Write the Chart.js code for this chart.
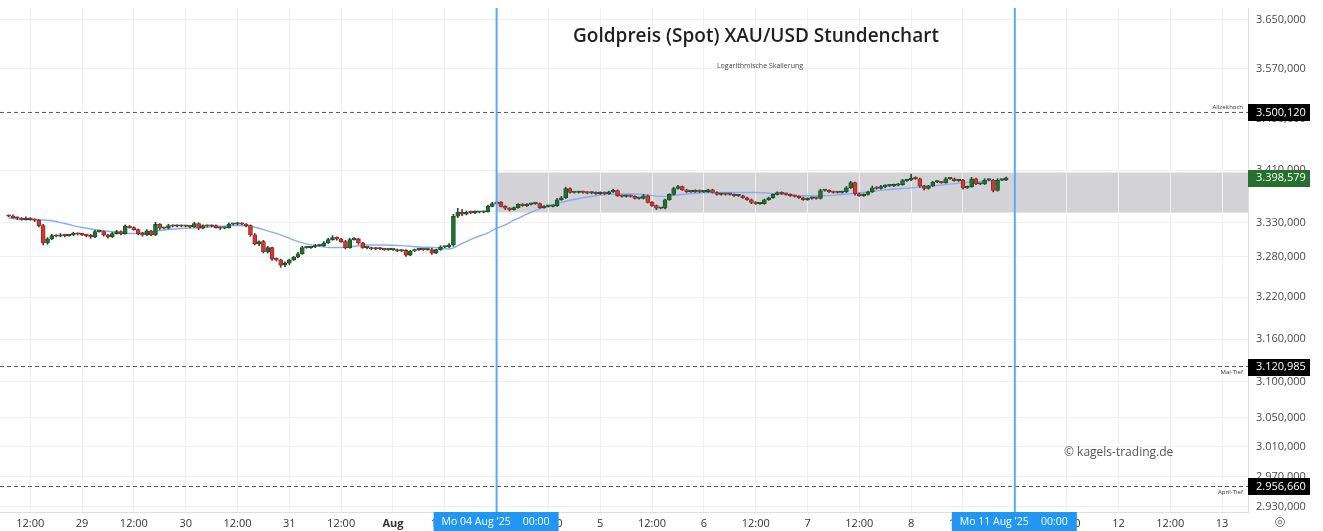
<!DOCTYPE html>
<html><head><meta charset="utf-8">
<script src="https://cdn.jsdelivr.net/npm/chart.js@4.4.1/dist/chart.umd.min.js"></script>
<style>html,body{margin:0;padding:0;background:#fff;overflow:hidden}#wrap{width:1323px;height:531px;position:relative}</style>
</head><body><div id="wrap"><canvas id="c" width="1323" height="531"></canvas></div>
<script>
// ---------- DATA ----------
const titleText = 'Goldpreis (Spot) XAU/USD Stundenchart';
const subtitleText = 'Logarithmische Skalierung';
const watermarkText = '\u00A9 kagels-trading.de';

// hourly candles, x = hour slot counted from Mon 28 Jul 00:00 (weekend removed)
const firstHour = 7;
const firstOpen = 3341;
const closes = [
  3340,3338,3337,3335,3337,3335,3334,3326,3300,3306,3311,3310,3312,3311,3312,3314,3313,
  3312,3311,3309,3317,3317,3312,3309,3314,3317,3314,3325,3323,3320,3314,3312,3318,3312,3328,3322,3322,3326,3325,3326,3325,
  3325,3324,3329,3322,3326,3325,3326,3323,3322,3323,3328,3328,3329,3328,3326,3312,3299,3302,3287,3293,3276,3275,3267,3270,
  3275,3279,3284,3293,3293,3294,3296,3296,3300,3305,3308,3306,3302,3293,3305,3306,3300,3293,3293,3291,3292,3291,3290,3290,
  3290,3288,3289,3282,3288,3290,3291,3290,3290,3285,3290,3294,3294,3297,3340,3346,3343,3346,3345,3346,3346,3347,3355,3359,
  3361,3355,3352,3350,3353,3358,3356,3358,3359,3359,3353,3355,3355,3356,3365,3368,3382,3376,3376,3377,3376,3375,3376,3374,
  3376,3374,3377,3379,3371,3370,3371,3370,3367,3367,3371,3361,3356,3352,3352,3365,3373,3382,3385,3380,3377,3377,3379,3377,
  3377,3380,3376,3373,3374,3373,3373,3371,3371,3368,3365,3361,3359,3359,3365,3368,3373,3376,3374,3373,3371,3370,3368,3365,
  3367,3368,3367,3379,3379,3377,3376,3376,3377,3383,3391,3374,3371,3373,3377,3383,3382,3385,3386,3386,3387,3388,3394,3395,
  3398,3397,3386,3382,3386,3392,3392,3391,3397,3397,3394,3395,3383,3385,3397,3389,3389,3395,3395,3379,3395,3395,3398.579
];
const upperWick = [
  1,2,1,1,2,1,1,1,2,2,2,1,2,1,1,2,1,
  1,1,2,2,1,1,1,2,2,1,2,1,1,1,2,2,1,3,1,1,2,1,1,1,
  1,1,2,1,1,1,1,1,1,1,2,1,2,1,1,1,2,1,2,2,1,2,1,2,
  1,1,2,2,1,1,2,1,2,2,3,1,1,2,2,2,1,1,1,1,1,1,1,1,
  1,1,1,1,1,1,1,1,1,2,1,2,1,2,3,6,4,2,2,2,1,1,2,2,
  2,1,1,1,1,1,1,1,1,1,1,1,1,1,2,2,2,1,1,1,1,1,1,1,
  1,1,1,2,1,1,1,1,1,1,2,1,1,1,1,1,1,2,2,1,1,1,1,1,
  1,1,1,1,1,1,1,1,1,1,1,1,1,1,1,1,1,1,1,1,1,1,1,1,
  1,1,1,2,1,1,1,1,1,2,2,1,1,1,1,3,2,2,2,1,2,2,2,1,
  6,2,1,1,1,1,2,1,2,1,1,1,1,1,2,1,1,2,1,1,2,1,1
];
const lowerWick = [
  1,1,2,1,1,1,2,2,3,2,1,1,1,2,1,1,1,
  1,2,2,1,1,2,2,1,1,2,1,1,1,2,2,1,1,1,2,1,1,1,1,1,
  1,1,1,2,1,1,1,1,2,1,1,1,1,1,2,2,2,3,2,2,2,2,3,2,
  2,1,1,1,1,1,1,1,1,1,1,2,1,2,1,1,2,1,2,1,1,1,1,1,
  1,1,1,2,1,1,1,1,1,2,1,1,1,1,2,2,2,1,1,1,1,1,1,1,
  1,1,2,2,1,1,1,1,1,1,1,1,1,1,1,1,1,1,1,1,1,1,1,1,
  1,1,1,1,1,1,1,1,1,1,1,1,1,2,1,1,1,1,1,1,1,1,1,1,
  1,1,1,1,1,1,1,1,1,1,1,2,1,1,1,1,1,1,1,1,1,1,1,1,
  1,1,1,1,1,1,1,1,1,1,1,2,1,1,1,1,1,1,2,1,1,1,1,1,
  1,1,2,2,1,1,1,1,1,1,1,1,2,1,1,1,1,1,1,2,1,1,1
];

// moving average
const maHours  = [7,12,16,20,24,28,32,36,40,44,48,52,56,60,63,66,70,74,78,82,86,90,94,98,102,106,109,112,115,118,120,122,124,126,128,130,132,135,140,143,148,154,158,163,170,180,185,190,195,200,205,210,216,224,230,238];
const maValues = [3337,3335,3334,3329,3323,3319,3316,3314,3317,3320,3322,3323,3325,3326,3325,3320,3312,3302,3296,3293,3294,3297,3297,3296,3294,3293,3291,3299,3308,3315,3322,3327,3334,3340,3346,3351,3355,3361,3368,3371,3374,3373,3370,3373,3376,3376,3374,3371,3371,3373,3376,3380,3383,3388,3392,3395];

// axis ticks
const yTicks = [2930,2970,3010,3050,3100,3160,3220,3280,3330,3410,3490,3570,3650];
const xTickHours  = [12,24,36,48,60,72,84,96,108,120,132,144,156,168,180,192,204,216,228,240,252,264,276,288];
const xTickLabels = ['12:00','29','12:00','30','12:00','31','12:00','Aug','12:00','4','12:00','5','12:00','6','12:00','7','12:00','8','12:00','11','12:00','12','12:00','13'];

// horizontal levels
const levelValues = [3500.120, 3120.985, 2956.660];
const levelNames  = ['Allzeithoch', 'Mai-Tief', 'April-Tief'];
const lastPrice = 3398.579;

// range box
const zoneStartHour = 120;
const zoneHigh = 3406.5;
const zoneLow = 3345.6;

// vertical markers
const markerHours  = [120, 240];
const markerLabels = [["Mo 04 Aug '25", '00:00'], ["Mo 11 Aug '25", '00:00']];

// ---------- CHART ----------
const X_MIN = 5, X_MAX = 294;
const Y_MIN = 2922.8, Y_MAX = 3669;
const FAM = "'Open Sans', 'DejaVu Sans', sans-serif";
const GREEN = '#21702f', RED = '#d5362f', WICK = '#3c3c3c';
const GREEN_B = '#174d21', RED_B = '#8e2420';

function fmt(v) {
  const s = Number(v).toFixed(3);
  const parts = s.split('.');
  return parts[0].replace(/\B(?=(\d{3})+(?!\d))/g, '.') + ',' + parts[1];
}

const candles = closes.map((c, i) => {
  const o = i === 0 ? firstOpen : closes[i - 1];
  return { h: firstHour + i, o: o, c: c,
    hi: Math.max(o, c) + upperWick[i], lo: Math.min(o, c) - lowerWick[i] };
});

const zonePlugin = {
  id: 'zone',
  beforeDraw(chart) {
    const { ctx, chartArea, scales } = chart;
    const x0 = scales.x.getPixelForValue(zoneStartHour);
    const y0 = scales.y.getPixelForValue(zoneHigh);
    const y1 = scales.y.getPixelForValue(zoneLow);
    ctx.save();
    ctx.fillStyle = '#d3d3d7';
    ctx.fillRect(x0, y0, chartArea.right - x0, y1 - y0);
    ctx.restore();
  }
};

const textPlugin = {
  id: 'texts',
  afterDraw(chart) {
    const { ctx, chartArea, scales } = chart;
    const ys = scales.y, xs = scales.x;
    ctx.save();
    // title
    ctx.fillStyle = '#1f1f24';
    ctx.textAlign = 'center';
    ctx.textBaseline = 'middle';
    ctx.font = '600 19px ' + FAM;
    ctx.fillText(titleText, 756, 37);
    ctx.font = '7px ' + FAM;
    ctx.fillStyle = '#444';
    ctx.fillText(subtitleText, 760, 66);
    // watermark
    ctx.font = '12px ' + FAM;
    ctx.fillStyle = '#555';
    ctx.textAlign = 'left';
    ctx.fillText(watermarkText, 1064, 453);

    // level names + value boxes
    levelValues.forEach((v, i) => {
      const y = ys.getPixelForValue(v);
      ctx.font = '6px ' + FAM;
      ctx.fillStyle = '#333';
      ctx.textAlign = 'right';
      ctx.fillText(levelNames[i], chartArea.right - 5, i === 0 ? y - 5 : y + 6);
      ctx.fillStyle = '#000';
      ctx.fillRect(chartArea.right, Math.round(y) - 8, 62, 17);
      ctx.fillStyle = '#fff';
      ctx.textAlign = 'left';
      ctx.font = '11px ' + FAM;
      ctx.fillText(fmt(v), chartArea.right + 8, y + 0.5);
    });
    const yl = ys.getPixelForValue(lastPrice);
    ctx.fillStyle = '#26702f';
    ctx.fillRect(chartArea.right, Math.round(yl) - 8, 62, 17);
    ctx.fillStyle = '#fff';
    ctx.font = '11px ' + FAM;
    ctx.textAlign = 'left';
    ctx.fillText(fmt(lastPrice), chartArea.right + 8, yl + 0.5);

    // marker boxes on time axis
    markerHours.forEach((h, i) => {
      const cx = xs.getPixelForValue(h);
      ctx.fillStyle = '#2196f3';
      ctx.fillRect(cx - 63, chartArea.bottom, 125, 19);
      ctx.fillStyle = '#fff';
      ctx.font = '10.5px ' + FAM;
      ctx.textAlign = 'left';
      ctx.fillText(markerLabels[i][0], cx - 55, chartArea.bottom + 10);
      ctx.textAlign = 'right';
      ctx.fillText(markerLabels[i][1], cx + 53, chartArea.bottom + 10);
    });

    // settings icon
    ctx.strokeStyle = '#777';
    ctx.lineWidth = 1;
    ctx.beginPath(); ctx.arc(1280, 522, 4.5, 0, Math.PI * 2); ctx.stroke();
    ctx.beginPath(); ctx.arc(1280, 522, 1.8, 0, Math.PI * 2); ctx.stroke();
    ctx.restore();
  }
};

const datasets = [];
markerHours.forEach(h => {
  datasets.push({ type: 'line', data: [{ x: h, y: Y_MIN }, { x: h, y: Y_MAX }],
    borderColor: '#5aaaf2', borderWidth: 2, pointRadius: 0, order: 0 });
});
datasets.push({ type: 'bar', data: candles.map(k => ({ x: k.h, y: [k.o, k.c] })),
  backgroundColor: candles.map(k => k.c >= k.o ? GREEN : RED),
  borderColor: candles.map(k => k.c >= k.o ? GREEN_B : RED_B),
  borderWidth: 0.8, borderSkipped: false,
  barThickness: 4, minBarLength: 1.5, grouped: false, order: 1 });
datasets.push({ type: 'bar', data: candles.map(k => ({ x: k.h, y: [k.lo, k.hi] })),
  backgroundColor: WICK, borderWidth: 0, barThickness: 1, grouped: false, order: 2 });
datasets.push({ type: 'line', data: maHours.map((h, i) => ({ x: h, y: maValues[i] })),
  borderColor: '#86aef5', borderWidth: 1.4, pointRadius: 0, cubicInterpolationMode: 'monotone', order: 3 });
levelValues.forEach(v => {
  datasets.push({ type: 'line', data: [{ x: X_MIN, y: v }, { x: X_MAX, y: v }],
    borderColor: '#555', borderWidth: 1, borderDash: [4, 3], pointRadius: 0, order: 4 });
});

new Chart(document.getElementById('c'), {
  type: 'bar',
  data: { datasets },
  options: {
    responsive: false, animation: false, devicePixelRatio: 1,
    layout: { padding: { top: 8, left: 0, right: 0, bottom: 0 } },
    plugins: { legend: { display: false }, tooltip: { enabled: false } },
    scales: {
      x: {
        type: 'linear', min: X_MIN, max: X_MAX, bounds: 'data', offset: false,
        grid: { color: '#f0f0f0', drawTicks: false, offset: false },
        border: { color: '#dedede' },
        afterBuildTicks: s => { s.ticks = xTickHours.map(v => ({ value: v })); },
        afterFit: s => { s.height = 19; s.paddingLeft = 0; s.paddingRight = 0; },
        ticks: {
          autoSkip: false, maxRotation: 0, padding: 5, color: '#333',
          font: ctx => ({ family: FAM, size: 11, weight: (ctx.tick && ctx.tick.label === 'Aug') ? 'bold' : 'normal' }),
          callback: v => { const i = xTickHours.indexOf(v); return i >= 0 ? xTickLabels[i] : ''; }
        }
      },
      y: {
        type: 'logarithmic', position: 'right', min: Y_MIN, max: Y_MAX, bounds: 'data',
        grid: { color: '#f0f0f0', drawTicks: false },
        border: { color: '#dedede' },
        afterBuildTicks: s => { s.ticks = yTicks.map(v => ({ value: v })); },
        afterFit: s => { s.width = 75; s.paddingTop = 0; s.paddingBottom = 0; },
        ticks: { padding: 8, color: '#4a4a4a', font: { family: FAM, size: 11 }, callback: v => fmt(v) }
      }
    }
  },
  plugins: [zonePlugin, textPlugin]
});
</script></body></html>
